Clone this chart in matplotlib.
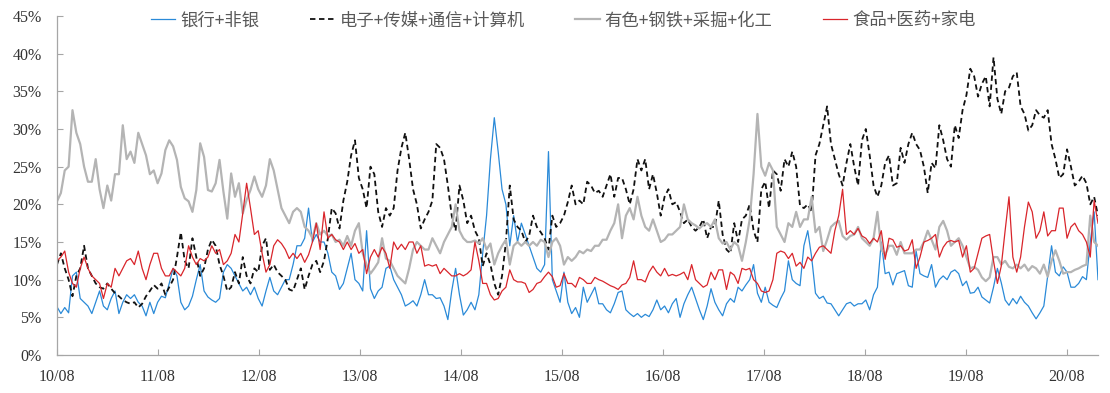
import matplotlib
matplotlib.use("Agg")
import matplotlib.pyplot as plt
import matplotlib.dates as mdates
from matplotlib.ticker import FuncFormatter, MultipleLocator
import pandas as pd

# biweekly readings, Aug 2010 .. Nov 2020 (percent)
bank = [
    6.4, 5.5, 6.3, 5.6, 10.5, 11.0, 7.5, 7.0, 6.5, 5.5, 7.0, 8.5, 6.5, 6.0, 7.5, 8.5, 5.5, 7.0, 8.0, 7.5, 8.0, 7.0, 6.5, 5.2, 7.0, 5.5,
    7.0, 7.8, 7.6, 9.5, 11.5, 10.5, 7.0, 6.0, 6.5, 7.8, 10.0, 12.0, 8.5, 7.7, 7.3, 7.0, 7.5, 11.0, 12.0, 11.5, 10.5, 9.5, 8.5, 9.0, 8.0, 9.0,
    7.5, 6.5, 8.5, 10.3, 8.5, 8.0, 9.0, 10.0, 10.0, 12.0, 14.5, 14.5, 15.5, 19.5, 15.0, 16.0, 15.0, 15.0, 13.5, 11.0, 10.5, 8.7, 9.5, 11.5, 13.5, 10.0,
    9.5, 8.5, 16.5, 8.8, 7.5, 8.5, 9.0, 11.5, 11.8, 10.0, 9.0, 8.0, 6.5, 6.8, 7.2, 6.5, 8.0, 10.0, 8.0, 8.0, 7.5, 7.6, 6.5, 4.7, 8.5, 11.5,
    8.0, 5.3, 6.0, 7.0, 6.0, 8.0, 13.5, 18.5, 26.0, 31.5, 27.0, 22.0, 20.0, 14.5, 18.5, 15.0, 17.5, 16.0, 14.5, 13.0, 11.5, 11.0, 12.0, 27.0, 10.0, 8.5,
    7.0, 11.0, 7.0, 5.5, 6.3, 5.0, 9.0, 7.0, 8.0, 9.0, 6.8, 6.8, 6.0, 5.6, 6.8, 8.3, 8.5, 6.0, 5.5, 5.1, 5.5, 5.0, 5.4, 5.1, 6.0, 7.3,
    6.0, 6.5, 5.6, 6.8, 7.5, 5.0, 6.8, 8.0, 9.0, 7.5, 6.0, 4.7, 6.5, 8.8, 7.0, 6.0, 5.2, 6.8, 7.5, 7.0, 9.0, 8.5, 9.3, 10.0, 12.0, 8.2,
    7.0, 9.0, 7.0, 6.6, 6.3, 7.5, 8.5, 12.5, 10.0, 9.5, 9.2, 14.5, 16.5, 13.0, 8.2, 7.5, 7.8, 6.9, 6.8, 6.0, 5.2, 6.0, 6.8, 7.0, 6.5, 6.8,
    6.8, 7.3, 6.0, 8.0, 9.0, 15.0, 10.8, 11.0, 9.3, 10.8, 11.0, 11.2, 9.2, 9.0, 13.8, 10.8, 10.5, 10.3, 12.0, 9.0, 10.0, 10.5, 10.0, 11.0, 11.3, 10.8,
    9.2, 9.8, 8.2, 8.3, 9.0, 7.7, 7.3, 6.9, 9.0, 11.5, 9.6, 7.3, 6.6, 7.5, 6.8, 7.8, 7.0, 6.5, 5.6, 4.8, 5.6, 6.5, 10.5, 14.5, 11.0, 10.5,
    11.7, 11.0, 9.0, 9.0, 9.5, 10.4, 10.0, 15.0, 19.0, 10.0,
]
tech = [
    12.0, 13.5, 11.5, 10.0, 7.8, 10.5, 11.5, 14.5, 11.5, 10.5, 9.5, 9.0, 8.8, 9.5, 8.8, 8.2, 7.8, 7.3, 7.0, 6.8, 7.0, 6.3, 6.8, 7.8, 8.5, 9.3,
    8.8, 9.5, 8.0, 9.0, 10.0, 13.0, 16.3, 12.5, 11.5, 15.5, 13.0, 10.5, 11.5, 14.0, 15.3, 14.5, 12.0, 10.5, 8.5, 9.0, 11.0, 9.5, 13.0, 10.5, 9.5, 11.5,
    11.0, 14.5, 15.5, 11.3, 12.0, 11.0, 10.5, 10.0, 8.7, 8.5, 10.0, 11.5, 8.7, 10.5, 12.0, 12.5, 11.0, 12.5, 15.5, 19.5, 18.8, 16.8, 20.5, 23.0, 26.5, 28.5,
    23.5, 22.0, 19.5, 25.0, 24.0, 19.0, 17.0, 19.5, 18.5, 19.5, 24.5, 27.5, 29.5, 26.0, 22.0, 20.0, 16.8, 18.0, 19.0, 20.5, 28.0, 27.5, 26.0, 22.5, 18.5, 16.5,
    22.5, 20.5, 17.5, 18.5, 16.5, 15.5, 11.8, 13.5, 12.0, 9.5, 8.0, 10.5, 15.0, 22.5, 18.0, 17.0, 16.5, 15.0, 15.8, 18.5, 17.0, 16.3, 15.5, 14.0, 18.5, 17.0,
    17.5, 18.5, 20.3, 22.5, 20.0, 20.5, 20.0, 23.0, 22.5, 21.5, 21.8, 21.0, 22.5, 24.0, 21.0, 23.5, 23.5, 22.0, 20.0, 22.0, 26.0, 24.5, 26.0, 22.0, 24.0, 21.5,
    18.5, 21.0, 22.0, 20.0, 20.3, 19.0, 17.5, 18.0, 17.0, 16.5, 17.0, 18.0, 15.5, 17.0, 17.0, 20.5, 16.0, 14.0, 13.5, 17.5, 15.0, 18.0, 18.5, 20.0, 16.5, 15.0,
    22.0, 23.0, 19.5, 24.5, 24.0, 21.8, 26.0, 25.0, 27.0, 25.0, 19.8, 19.5, 20.0, 19.0, 26.5, 28.0, 30.5, 33.0, 28.0, 26.0, 24.0, 22.5, 25.5, 28.0, 25.0, 22.5,
    28.5, 30.0, 26.5, 22.5, 21.0, 22.5, 25.5, 26.5, 22.5, 22.8, 27.5, 25.5, 28.0, 29.5, 28.0, 27.2, 25.0, 21.5, 25.5, 24.8, 30.5, 28.5, 26.0, 25.0, 30.5, 28.8,
    32.5, 34.5, 38.0, 37.0, 34.3, 36.0, 37.0, 33.0, 39.5, 34.0, 32.0, 35.0, 35.5, 37.0, 37.5, 33.0, 32.0, 29.8, 30.5, 32.5, 31.8, 31.5, 32.5, 28.0, 26.0, 23.5,
    24.0, 27.3, 25.0, 22.5, 23.0, 23.8, 22.8, 20.0, 21.0, 18.5,
]
cyclical = [
    20.4, 21.5, 24.5, 25.0, 32.5, 29.5, 28.0, 25.0, 23.0, 23.0, 26.0, 22.0, 19.5, 22.5, 20.5, 24.0, 24.0, 30.5, 26.0, 27.0, 25.5, 29.5, 28.0, 26.5, 24.0, 24.5,
    22.8, 24.1, 27.2, 28.5, 27.7, 25.9, 22.3, 20.8, 20.4, 19.0, 21.9, 28.1, 26.3, 21.9, 21.7, 22.8, 25.9, 21.7, 18.1, 24.1, 21.0, 22.8, 18.8, 20.6, 21.9, 23.7,
    22.0, 21.0, 22.5, 26.0, 24.5, 22.0, 19.5, 18.5, 17.5, 19.0, 19.5, 19.0, 17.0, 16.5, 15.5, 17.5, 16.0, 16.5, 15.8, 16.0, 15.0, 15.3, 14.5, 15.8, 14.5, 16.5,
    17.5, 13.5, 12.0, 10.8, 11.5, 12.3, 15.5, 12.8, 12.5, 11.5, 10.5, 10.0, 9.5, 11.5, 14.0, 15.0, 14.5, 14.0, 14.0, 15.5, 14.5, 13.5, 15.0, 16.0, 17.0, 20.0,
    16.5, 15.5, 15.0, 15.0, 15.2, 14.8, 15.5, 14.0, 14.8, 12.0, 13.5, 14.5, 15.3, 12.0, 14.5, 15.0, 14.5, 15.0, 14.5, 15.0, 14.5, 15.3, 15.0, 13.0, 15.0, 15.5,
    14.5, 12.0, 13.0, 12.5, 13.0, 13.8, 13.5, 14.0, 13.8, 14.5, 14.5, 15.3, 15.3, 16.5, 17.5, 20.0, 15.5, 18.5, 19.5, 18.0, 21.0, 18.5, 17.0, 16.5, 18.0, 16.5,
    15.0, 15.3, 16.0, 16.0, 16.5, 17.0, 20.0, 18.0, 17.5, 17.2, 16.8, 17.3, 17.5, 17.0, 18.0, 15.5, 14.8, 15.0, 14.0, 15.0, 14.5, 12.5, 15.0, 18.0, 24.0, 32.0,
    25.0, 23.8, 25.5, 24.5, 17.0, 16.0, 15.0, 17.5, 17.0, 19.0, 17.0, 18.0, 18.0, 21.0, 16.3, 17.0, 13.8, 15.3, 17.0, 17.5, 17.8, 15.8, 15.3, 15.8, 16.0, 17.0,
    15.5, 15.0, 14.5, 15.5, 19.0, 14.0, 13.3, 14.5, 14.5, 13.3, 15.0, 13.5, 13.5, 13.5, 14.0, 14.0, 15.0, 16.5, 15.3, 14.0, 17.0, 17.8, 16.5, 14.5, 15.0, 15.5,
    14.5, 13.0, 11.5, 11.7, 11.3, 10.3, 9.8, 10.3, 13.0, 13.0, 12.0, 12.5, 11.7, 11.5, 12.0, 11.5, 12.0, 11.2, 11.8, 11.5, 10.8, 12.0, 10.4, 12.5, 13.9, 12.5,
    10.8, 11.0, 11.0, 11.3, 11.5, 11.8, 12.0, 18.5, 15.0, 14.5,
]
consumer = [
    12.5, 13.0, 13.8, 11.0, 9.5, 9.0, 11.5, 13.0, 11.5, 10.5, 10.0, 9.5, 7.5, 9.5, 9.0, 11.5, 10.5, 11.5, 12.5, 12.8, 12.0, 13.8, 11.5, 10.0, 12.0, 13.5,
    13.5, 11.5, 10.5, 10.5, 11.5, 11.0, 10.5, 11.5, 14.5, 13.0, 12.0, 12.8, 12.5, 13.0, 14.5, 13.5, 14.0, 12.0, 12.5, 13.5, 16.0, 15.0, 18.8, 22.8, 19.5, 16.0,
    16.5, 13.5, 11.0, 12.0, 14.5, 15.3, 14.8, 14.0, 12.8, 13.5, 12.8, 13.5, 12.3, 13.3, 15.0, 17.5, 14.0, 19.0, 15.5, 16.0, 15.3, 15.0, 14.0, 15.0, 14.0, 14.8,
    13.5, 14.0, 10.8, 13.0, 14.0, 13.0, 14.3, 13.5, 11.5, 15.0, 14.0, 14.7, 14.0, 15.0, 15.0, 13.5, 14.5, 11.8, 12.0, 11.8, 12.0, 10.8, 11.5, 11.0, 10.5, 10.5,
    10.8, 10.5, 10.8, 11.3, 15.0, 12.5, 9.5, 9.5, 8.0, 7.3, 7.5, 8.5, 9.0, 11.3, 10.0, 9.7, 9.7, 9.5, 8.3, 8.7, 9.5, 9.7, 10.4, 11.0, 10.4, 9.0,
    9.2, 10.8, 9.5, 9.5, 9.0, 10.3, 10.0, 9.5, 9.5, 10.3, 10.0, 9.8, 9.5, 9.2, 9.0, 8.7, 9.3, 9.5, 10.3, 12.5, 10.0, 10.0, 9.7, 11.0, 11.8, 11.0,
    10.5, 11.5, 10.5, 10.7, 10.5, 10.7, 11.0, 10.0, 12.0, 10.0, 9.5, 9.0, 9.3, 11.0, 10.0, 11.3, 11.3, 8.7, 11.0, 10.6, 9.5, 11.5, 11.3, 11.5, 10.0, 9.5,
    8.5, 8.3, 8.5, 10.0, 13.5, 13.8, 13.6, 12.8, 13.5, 11.8, 12.3, 11.5, 13.0, 12.5, 13.5, 14.3, 14.5, 14.0, 13.5, 16.5, 18.5, 22.0, 16.0, 16.5, 16.0, 16.8,
    15.8, 15.5, 14.8, 15.5, 15.0, 16.5, 12.7, 15.5, 15.3, 14.3, 14.5, 13.8, 14.0, 15.3, 11.5, 13.0, 15.0, 15.2, 15.5, 16.0, 13.0, 14.3, 15.0, 15.2, 15.0, 15.2,
    13.0, 14.5, 11.0, 11.5, 13.5, 15.5, 15.8, 16.0, 12.5, 9.5, 11.8, 16.5, 21.0, 13.0, 11.0, 13.0, 17.0, 20.3, 19.0, 15.5, 16.5, 19.0, 15.8, 16.5, 16.5, 19.5,
    19.5, 15.5, 17.0, 17.5, 16.5, 16.0, 15.0, 13.0, 20.5, 17.5,
]
dates = pd.date_range("2010-08-06", periods=len(bank), freq="14D")
tick_years = list(range(2010, 2021))

labels = ["银行+非银", "电子+传媒+通信+计算机", "有色+钢铁+采掘+化工", "食品+医药+家电"]

fig = plt.figure(figsize=(11.1, 3.93), dpi=100)
ax = fig.add_axes([57 / 1110, 38 / 393, 1041 / 1110, 339 / 393])

ax.plot(dates, bank, color="#2A8AD8", lw=0.9, label=labels[0])
ax.plot(dates, tech, color="#111111", lw=1.3, ls=(0, (3, 2)), label=labels[1])
ax.plot(dates, cyclical, color="#B4B4B4", lw=1.6, label=labels[2])
ax.plot(dates, consumer, color="#D9252B", lw=0.9, label=labels[3])

ax.set_ylim(0, 45)
ax.set_xlim(dates[0], dates[-1])
ax.yaxis.set_major_locator(MultipleLocator(5))
ax.yaxis.set_major_formatter(FuncFormatter(lambda v, p: f"{v:.0f}%"))
ticks = [pd.Timestamp(f"{y}-08-06") for y in tick_years]
ax.set_xticks(ticks)
ax.xaxis.set_major_formatter(mdates.DateFormatter("%y/%m"))

for s in ["top", "right"]:
    ax.spines[s].set_visible(False)
for s in ["left", "bottom"]:
    ax.spines[s].set_color("#A6A6A6")
    ax.spines[s].set_linewidth(0.9)
ax.tick_params(axis="both", direction="in", length=4, color="#A6A6A6",
               labelsize=11.5, labelcolor="#333333")
ax.tick_params(axis="y", pad=11)
ax.tick_params(axis="x", pad=10)
for lab in ax.get_xticklabels() + ax.get_yticklabels():
    lab.set_family("Liberation Serif")

leg = ax.legend(ncol=4, loc="upper center", bbox_to_anchor=(0.4866, 1.06),
                frameon=False, handlelength=1.4, handletextpad=0.3,
                columnspacing=2.9, prop={"family": ["Noto Sans CJK SC", "DejaVu Sans"], "size": 12.5})
for t in leg.get_texts():
    t.set_color("#595959")

fig.savefig("out.png", dpi=100, facecolor="white")
